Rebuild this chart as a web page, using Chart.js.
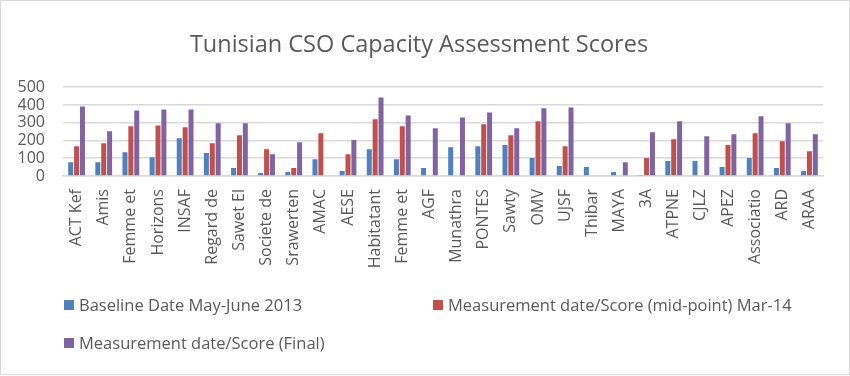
<!DOCTYPE html>
<html>
<head>
<meta charset="utf-8">
<script src="https://cdn.jsdelivr.net/npm/chart.js@4/dist/chart.umd.min.js"></script>
<style>
    body { margin: 0; background: #fff; }
    #wrap {
        position: relative;
        width: 848px;
        height: 373px;
        border: 1px solid #d9d9d9;
        font-family: "Open Sans", sans-serif;
    }
    #chart-box { position: absolute; left: 0; top: 0; width: 848px; height: 373px; }
    .legend-item {
        position: absolute;
        font-size: 16.5px;
        color: #595959;
        white-space: nowrap;
        line-height: 22px;
    }
    .legend-item span {
        display: inline-block;
        width: 10px;
        height: 10px;
        margin-right: 5px;
        vertical-align: 1px;
    }
</style>
</head>
<body>
<div id="wrap">
    <div id="chart-box"><canvas id="cso-chart"></canvas></div>
    <div class="legend-item" style="left:63px; top:293px;"><span style="background:#4f81bd"></span>Baseline Date May-June 2013</div>
    <div class="legend-item" style="left:432px; top:293px;"><span style="background:#c0504d"></span>Measurement date/Score (mid-point) Mar-14</div>
    <div class="legend-item" style="left:63px; top:331px;"><span style="background:#8064a2"></span>Measurement date/Score (Final)</div>
</div>
<script>
// organisations (labels truncated as in the source sheet)
let orgLabels = [
    "ACT Kef", "Amis", "Femme et", "Horizons", "INSAF", "Regard de", "Sawet El",
    "Societe de", "Srawerten", "AMAC", "AESE", "Habitatant", "Femme et", "AGF",
    "Munathra", "PONTES", "Sawty", "OMV", "UJSF", "Thibar", "MAYA", "3A",
    "ATPNE", "CJLZ", "APEZ", "Associatio", "ARD", "ARAA"
];

let baselineScores = [
    78, 78, 134, 106, 213, 129, 45,
    17, 22, 95, 28, 151, 95, 45,
    162, 168, 174, 101, 56, 50, 22, 6,
    84, 84, 50, 101, 45, 28
];

let midpointScores = [
    168, 185, 280, 285, 274, 185, 230,
    151, 45, 241, 123, 319, 280, null,
    null, 291, 230, 308, 168, null, null, 101,
    207, null, 174, 241, 196, 140
];

let finalScores = [
    392, 252, 369, 375, 375, 297, 297,
    123, 190, null, 202, 442, 341, 269,
    330, 358, 269, 381, 386, null, 78, 246,
    308, 224, 235, 336, 297, 235
];

let yTicks = [0, 100, 200, 300, 400, 500];

const textColor = "#595959";
const gridColor = "#d9d9d9";

let chartCanvas = document.getElementById("cso-chart");

let csoChart = new Chart(chartCanvas, {
    type: "bar",
    data: {
        labels: orgLabels,
        datasets: [
            {
                label: "Baseline Date May-June 2013",
                backgroundColor: "#4f81bd",
                data: baselineScores,
            },
            {
                label: "Measurement date/Score (mid-point) Mar-14",
                backgroundColor: "#c0504d",
                data: midpointScores,
            },
            {
                label: "Measurement date/Score (Final)",
                backgroundColor: "#8064a2",
                data: finalScores,
            },
        ],
    },
    options: {
        responsive: true,
        maintainAspectRatio: false,
        animation: false,
        categoryPercentage: 0.65,
        barPercentage: 0.85,
        scales: {
            x: {
                afterFit: (axis) => {
                    axis.height = 95;
                },
                grid: { display: false, drawTicks: false },
                border: { color: gridColor, width: 1.5 },
                ticks: {
                    autoSkip: false,
                    minRotation: 90,
                    maxRotation: 90,
                    padding: 13,
                    color: textColor,
                    font: { family: "Open Sans", size: 16 },
                },
            },
            y: {
                min: 0,
                max: 500,
                afterBuildTicks: (axis) => {
                    axis.ticks = yTicks.map((v) => ({ value: v }));
                },
                afterFit: (axis) => {
                    axis.width = 48;
                },
                grid: { color: gridColor, lineWidth: 1.5, drawTicks: false },
                border: { display: false },
                ticks: {
                    autoSkip: false,
                    padding: 18,
                    color: textColor,
                    font: { family: "Open Sans", size: 16 },
                },
            },
        },
        layout: {
            padding: { top: 0, left: 14, right: 26, bottom: 103 },
        },
        plugins: {
            title: {
                display: true,
                text: "Tunisian CSO Capacity Assessment Scores",
                color: textColor,
                font: { family: "Open Sans", size: 23.5, weight: "normal" },
                padding: { top: 30, bottom: 28 },
            },
            legend: { display: false },
            tooltip: { enabled: false },
        },
    },
});
</script>
</body>
</html>
